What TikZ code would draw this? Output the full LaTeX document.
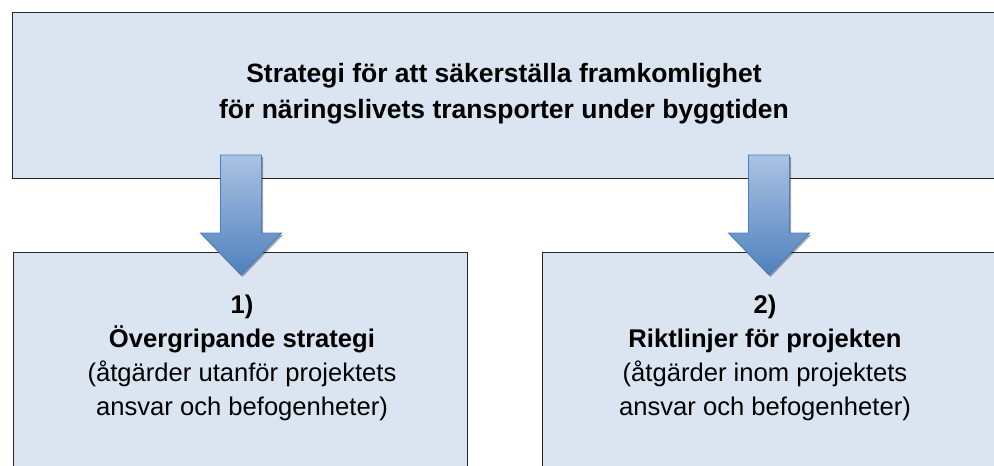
\documentclass[tikz,border=0pt]{standalone}
\usepackage{fontspec}
\setmainfont{Liberation Sans}
\usetikzlibrary{shadows}
\definecolor{boxfill}{HTML}{DBE5F1}
\definecolor{arrtop}{HTML}{AAC3E3}
\definecolor{arrbot}{HTML}{4F81BD}
\definecolor{arrline}{HTML}{4A7EBB}
\tikzset{
  panel/.style={draw=black!85, line width=1.4pt, fill=boxfill, rectangle, anchor=north west, inner sep=0pt},
  toptext/.style={font=\fontsize{26.5}{36.5}\selectfont\bfseries, anchor=base, inner sep=0pt},
  lowtext/.style={font=\fontsize{25.6}{34}\selectfont, anchor=base, inner sep=0pt},
  blockarrow/.style={draw=arrline, line width=0.9pt, top color=arrtop, bottom color=arrbot, line join=miter,
    drop shadow={shadow xshift=1.5pt, shadow yshift=-2pt, opacity=0.35, fill=black}}
}
\begin{document}
\begin{tikzpicture}[x=1pt,y=-1pt]
\useasboundingbox (0,0) rectangle (994,466);
\clip (0,0) rectangle (994,466);
% boxes
\node[panel, minimum width=1010pt, minimum height=166.5pt] (top) at (12,11.5) {};
\node[panel, minimum width=454pt, minimum height=240pt] (left) at (13,252) {};
\node[panel, minimum width=470pt, minimum height=240pt] (right) at (542,252) {};
% texts
\node[toptext] (t1) at (504,82) {Strategi för att säkerställa framkomlighet};
\node[toptext] (t2) at (504,118.5) {för näringslivets transporter under byggtiden};
\node[lowtext] (l1) at (242,313) {\textbf{1)}};
\node[lowtext] (l2) at (242,347) {\textbf{Övergripande strategi}};
\node[lowtext] (l3) at (242,381.5) {(åtgärder utanför projektets};
\node[lowtext] (l4) at (242,415.5) {ansvar och befogenheter)};
\node[lowtext] (r1) at (765,313) {\textbf{2)}};
\node[lowtext] (r2) at (765,347) {\textbf{Riktlinjer för projekten}};
\node[lowtext] (r3) at (765,381.5) {(åtgärder inom projektets};
\node[lowtext] (r4) at (765,415.5) {ansvar och befogenheter)};
% block arrows
\foreach \c in {241,769}{
  \draw[blockarrow] (\c-20.5,155) -- (\c+20.5,155) -- (\c+20.5,233) -- (\c+40.5,233)
     -- (\c,275) -- (\c-40.5,233) -- (\c-20.5,233) -- cycle;
}
\end{tikzpicture}
\end{document}
